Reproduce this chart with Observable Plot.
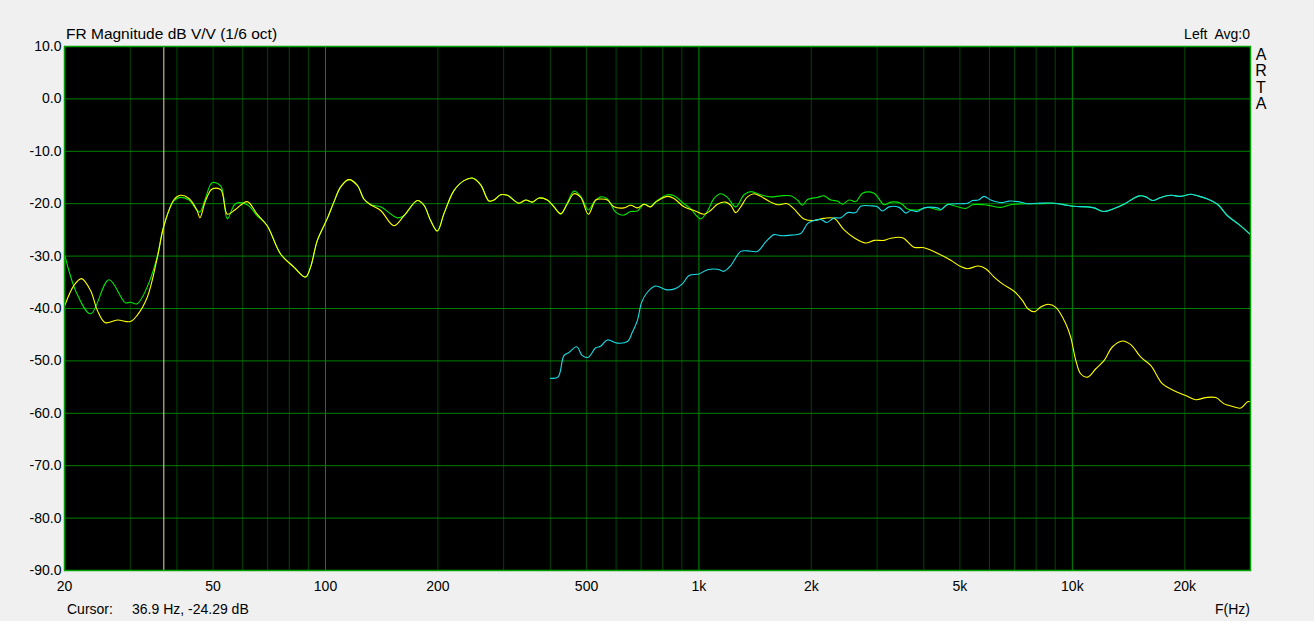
<!DOCTYPE html>
<html>
<head>
<meta charset="utf-8">
<script src="https://cdn.jsdelivr.net/npm/d3@7"></script>
<script src="https://cdn.jsdelivr.net/npm/@observablehq/plot@0.6"></script>
<style>
  body { margin: 0; background: #f0f0f0; font-family: "Liberation Sans", Arial, sans-serif; }
  #wrap { position: relative; width: 1314px; height: 621px; overflow: hidden; }
  .lbl { position: absolute; font-size: 14px; line-height: 16px; color: #000; white-space: pre; }
</style>
</head>
<body>
<div id="wrap">
  <div id="graph"></div>
  <div class="lbl" style="left:66px;top:25.5px;font-size:15.5px">FR Magnitude dB V/V (1/6 oct)</div>
  <div class="lbl" style="right:64px;top:26px">Left  Avg:0</div>
  <div class="lbl" style="left:1254px;top:47px;font-size:16px;line-height:16.3px;width:14px;text-align:center">A<br>R<br>T<br>A</div>
  <div class="lbl" style="left:67px;top:601px">Cursor:</div>
  <div class="lbl" style="left:132px;top:601px">36.9 Hz, -24.29 dB</div>
  <div class="lbl" style="right:64px;top:601px">F(Hz)</div>
</div>
<script>
// frequency axis
const xTicks = [20, 50, 100, 200, 500, 1000, 2000, 5000, 10000, 20000];
const xTickLabels = ["20", "50", "100", "200", "500", "1k", "2k", "5k", "10k", "20k"];
const majorGrid = [100, 1000, 10000];
const minorGrid = [30, 40, 50, 60, 70, 80, 90, 200, 300, 400, 500, 600, 700, 800, 900,
  2000, 3000, 4000, 5000, 6000, 7000, 8000, 9000, 20000];
const yTicks = [10, 0, -10, -20, -30, -40, -50, -60, -70, -80, -90];
const cursorHz = 36.9;

// summed response (green), low part
const greenHz = [20, 21.6, 23.5, 26.3, 29.1, 30, 31.3, 33.3, 35.4, 36.9, 39.3, 40.9, 43.1, 45.3, 46.1, 47.7,
  49.7, 52.4, 54.6, 57.4, 61.7, 65.6, 69.8, 75.8, 82.3, 88.4, 91.2, 95.1, 101, 105.3, 109.8, 115.5,
  121.7, 126.7, 132.1, 140.5, 155.7, 162.2, 176.2, 183.5, 191.2, 199.3, 207.6, 220.8, 234.8, 247.4,
  260.4, 274, 282.5, 294.4, 306.9, 329.6, 343.6, 358, 373, 392.8, 409.2, 426.4, 444.4, 462.8, 482.4,
  505.8, 523.6, 545.6, 568.8, 598.4, 627.4, 656.4, 684.2, 712.6, 739.6, 766.2, 823.4, 857.6, 912,
  950.6, 1011, 1054, 1098, 1144, 1192, 1255, 1321, 1376, 1464, 1557, 1656, 1761, 1836, 1893, 1953,
  2076, 2163, 2254, 2350, 2424, 2524, 2630, 2742, 2944, 3132, 3264, 3471, 3618, 3849, 4093, 4443,
  4630, 4824, 5184, 5404, 5802, 6048, 6432, 6842, 7584, 8234, 8936, 9705];
const greenDb = [-29.6, -37.2, -41.0, -34.5, -38.9, -38.8, -39.1, -35.9, -30.2, -24.2, -19.4, -18.8, -19.3, -21.3, -21.6, -19.0,
  -16.0, -16.6, -22.9, -20.0, -20.2, -22.3, -24.2, -29.6, -32.1, -34.0, -32.1, -27.0, -22.9, -19.7, -16.8, -15.4,
  -16.5, -19.1, -20.2, -20.6, -22.7, -22.3, -19.4, -20.3, -23.2, -25.2, -21.9, -17.5, -15.6, -15.1,
  -16.4, -19.5, -19.3, -18.3, -18.4, -19.9, -19.3, -19.7, -18.9, -19.3, -20.6, -22.0, -19.8, -17.6, -18.6,
  -21.2, -19.7, -18.7, -19.1, -21.6, -22.2, -21.5, -21.4, -20.1, -20.6, -19.6, -18.3, -18.5, -20.0,
  -21.0, -22.9, -21.4, -19.0, -18.1, -18.8, -20.6, -18.3, -17.7, -18.3, -18.7, -18.5, -18.5, -19.3, -20.3, -19.2,
  -18.8, -18.5, -19.3, -19.5, -20.1, -19.3, -19.6, -18.0, -18.0, -20.2, -19.7, -19.9, -21.0, -21.2, -20.7, -21.2,
  -20.1, -20.4, -20.9, -20.2, -20.2, -20.4, -20.7, -20.2, -20.0, -20.0, -19.9, -20.3];

// tweeter (cyan), low part
const cyanHz = [400, 419.4, 435, 448.6, 470.6, 487.4, 505.8, 529, 545.6, 568.8, 604.6, 643.4, 663.6, 684.2,
  702.6, 727.6, 766.2, 814.8, 857.6, 903, 940.6, 1001, 1054, 1121, 1167, 1217, 1294, 1349, 1434, 1510,
  1589, 1656, 1761, 1873, 1953, 2014, 2120, 2200, 2302, 2398, 2500, 2630, 2712, 2884, 3006, 3100, 3230,
  3436, 3580, 3692, 3849, 4009, 4354, 4443, 4630, 5026, 5238, 5404, 5604, 5802, 6048, 6500, 6770, 7132,
  7584, 8068, 8936, 9705];
const cyanDb = [-53.3, -53.1, -49.0, -48.4, -47.3, -49.0, -49.3, -47.5, -47.2, -46.0, -46.6, -46.3, -44.5, -42.3,
  -38.8, -36.9, -35.7, -36.4, -36.3, -35.3, -33.7, -33.4, -32.6, -32.5, -32.9, -31.8, -29.1, -29.0, -29.1, -27.3,
  -25.9, -26.1, -26.0, -25.7, -23.8, -23.3, -23.0, -23.6, -22.7, -22.7, -21.7, -21.7, -20.5, -20.4, -20.6, -21.4, -20.6,
  -20.7, -21.8, -21.3, -21.5, -20.8, -20.8, -21.1, -20.2, -20.0, -19.9, -19.4, -19.3, -18.6, -19.3, -19.8, -19.5, -19.6,
  -20.0, -19.9, -19.9, -20.3];

// top end shared by green and cyan
const topHz = [10108, 10980, 11438, 12120, 12940, 13910, 14500, 15100, 15740, 16400, 17260, 18360, 19530,
  20760, 21640, 23020, 24480, 26040, 27960, 30000];
const topDb = [-20.5, -20.6, -20.8, -21.5, -20.9, -19.9, -19.1, -18.5, -18.7, -19.4, -18.8, -18.4, -18.6,
  -18.2, -18.5, -19.1, -20.1, -22.3, -24.0, -25.9];

// woofer (yellow)
const yellowHz = [20, 21.2, 22.2, 23.5, 24.5, 25.7, 27.7, 30, 31.3, 33.3, 35.4, 36.9, 39.3, 40.9, 43.1, 45.3, 46.1,
  47.7, 49.7, 52.4, 54.6, 57.4, 61.7, 65.6, 69.8, 75.8, 82.3, 88.4, 91.2, 95.1, 101, 105.3, 109.8, 115.5,
  121.7, 126.7, 132.1, 140.5, 152.5, 162.2, 176.2, 183.5, 191.2, 199.3, 207.6, 220.8, 234.8, 247.4, 260.4,
  274, 282.5, 294.4, 306.9, 329.6, 343.6, 358, 373, 392.8, 409.2, 426.4, 444.4, 462.8, 482.4, 505.8, 529,
  545.6, 568.8, 592.2, 630, 656.4, 684.2, 712.6, 742.2, 766.2, 823.4, 857.6, 912, 970.2, 1032, 1075, 1121,
  1179, 1217, 1255, 1294, 1349, 1405, 1464, 1557, 1622, 1725, 1797, 1912, 2033, 2163, 2302, 2448, 2604,
  2798, 2944, 3132, 3264, 3508, 3768, 4009, 4398, 4726, 5026, 5238, 5604, 5862, 6174, 6500, 6982, 7356,
  7614, 7934, 8234, 8612, 9030, 9604, 9904, 10216, 10536, 10980, 11560, 12170, 12810, 13630, 14340, 15260,
  16230, 17440, 18740, 20130, 21420, 22780, 24230, 25510, 26580, 28270, 29460, 30000];
const yellowDb = [-39.6, -35.6, -34.3, -36.6, -40.4, -42.7, -42.2, -42.5, -41.3, -37.9, -30.5, -24.3, -19.2, -18.4, -19.0, -21.3, -22.7,
  -19.5, -17.2, -17.3, -22.0, -21.1, -19.6, -22.0, -24.2, -29.6, -32.1, -34.0, -32.1, -27.0, -22.9, -19.7, -16.8, -15.4,
  -16.5, -19.1, -20.2, -21.3, -24.2, -22.3, -19.4, -20.3, -23.2, -25.2, -21.9, -17.5, -15.6, -15.1, -16.4,
  -19.5, -19.3, -18.3, -18.4, -19.9, -19.3, -19.7, -18.9, -19.3, -20.6, -21.9, -20.0, -18.1, -18.8, -22.0, -19.3,
  -19.1, -19.3, -20.6, -20.8, -20.3, -20.8, -20.1, -20.6, -19.7, -18.6, -19.0, -20.6, -21.3, -22.0, -21.3, -20.1,
  -19.7, -20.3, -21.7, -20.6, -18.7, -18.1, -18.6, -19.7, -20.2, -20.0, -21.0, -22.9, -23.2, -22.8, -22.8, -25.0, -26.5,
  -27.5, -27.0, -27.0, -26.6, -26.5, -28.3, -28.4, -29.6, -30.8, -32.0, -32.4, -31.9, -32.4, -34.0, -35.3, -36.7, -38.5,
  -40.1, -40.6, -39.7, -39.2, -39.8, -42.9, -45.5, -49.9, -52.5, -53.1, -51.5, -49.9, -47.3, -46.2, -46.9, -49.3,
  -50.9, -54.4, -55.7, -56.6, -57.4, -57.0, -57.0, -58.2, -58.6, -59.0, -57.8, -57.8];

function toRows(hz, db) {
  return hz.map((f, i) => ({f: f, db: db[i]}));
}

const green = toRows(greenHz.concat(topHz), greenDb.concat(topDb));
const cyan = toRows(cyanHz.concat(topHz), cyanDb.concat(topDb));
const yellow = toRows(yellowHz, yellowDb);
const xLabels = xTicks.map((f, i) => ({f: f, label: xTickLabels[i]}));

const chart = Plot.plot({
  width: 1314,
  height: 621,
  marginLeft: 64,
  marginRight: 64,
  marginTop: 46,
  marginBottom: 51,
  style: {background: "#f0f0f0", fontFamily: "Liberation Sans, Arial, sans-serif", fontSize: "14px", color: "#000"},
  x: {type: "log", domain: [20, 30000], axis: null},
  y: {domain: [-90, 10]},
  marks: [
    Plot.frame({fill: "black"}),
    Plot.ruleX(minorGrid, {stroke: "#004400"}),
    Plot.ruleX(majorGrid, {stroke: "#008c00"}),
    Plot.ruleY(yTicks, {stroke: "#008000"}),
    Plot.ruleX([cursorHz], {stroke: "#e6dc9a"}),
    Plot.line(green, {x: "f", y: "db", stroke: "#00e600", strokeWidth: 1.1, curve: "catmull-rom"}),
    Plot.line(yellow, {x: "f", y: "db", stroke: "#ffff00", strokeWidth: 1.1, curve: "catmull-rom"}),
    Plot.line(cyan, {x: "f", y: "db", stroke: "#19dce6", strokeWidth: 1.1, curve: "catmull-rom"}),
    Plot.frame({stroke: "#00a000", strokeWidth: 1.5}),
    Plot.text(xLabels, {x: "f", text: "label", frameAnchor: "bottom", lineAnchor: "top", dy: 11, fontSize: 14, fill: "#000"}),
    Plot.axisY({ticks: yTicks, tickFormat: (d) => d.toFixed(1), tickSize: 0, tickPadding: 3, label: null, fontSize: 14})
  ]
});

d3.select("#graph").append(() => chart);
</script>
</body>
</html>
